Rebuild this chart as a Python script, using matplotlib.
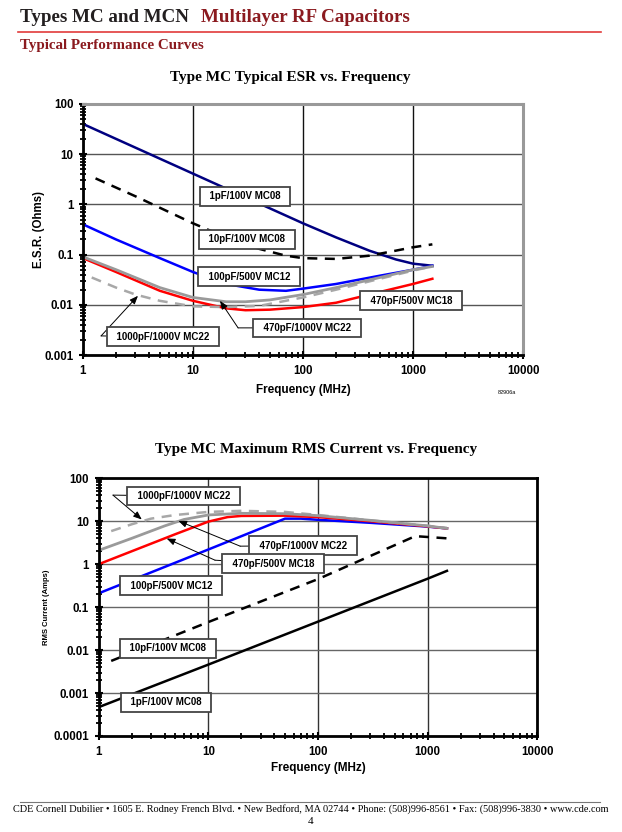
import matplotlib
matplotlib.use("Agg")
import matplotlib.pyplot as plt
from matplotlib.ticker import LogLocator, FixedLocator, FixedFormatter, NullFormatter

W, H = 622, 832

# ---- ESR vs frequency ----
esr_1pf_f = [1, 10, 100, 200, 400, 700, 1000, 1500]
esr_1pf = [40, 4.1, 0.42, 0.22, 0.12, 0.08, 0.066, 0.06]
esr_10pf_f = [1.3, 3, 10, 20, 40, 70, 100, 200, 400, 700, 1000, 1500]
esr_10pf = [3.3, 1.45, 0.42, 0.22, 0.13, 0.095, 0.085, 0.082, 0.095, 0.12, 0.14, 0.16]
esr_100pf_f = [1, 2, 5, 10, 20, 40, 70, 100, 200, 500, 1000, 1500]
esr_100pf = [0.4, 0.2, 0.085, 0.045, 0.026, 0.02, 0.019, 0.021, 0.026, 0.038, 0.05, 0.06]
esr_470pf1k_f = [1, 2, 5, 10, 20, 30, 50, 100, 200, 500, 1000, 1500]
esr_470pf1k = [0.09, 0.05, 0.022, 0.014, 0.0115, 0.0115, 0.0125, 0.016, 0.022, 0.035, 0.05, 0.058]
esr_470pf500_f = [1, 2, 5, 10, 20, 30, 50, 100, 200, 500, 1000, 1500]
esr_470pf500 = [0.085, 0.045, 0.019, 0.012, 0.0085, 0.0078, 0.008, 0.009, 0.011, 0.018, 0.026, 0.033]
esr_1000pf_f = [1.2, 2, 3, 5, 10, 20, 40, 100, 200, 500, 1000, 1500]
esr_1000pf = [0.035, 0.022, 0.016, 0.012, 0.0093, 0.009, 0.0095, 0.014, 0.02, 0.033, 0.048, 0.058]

# ---- Max RMS current vs frequency ----
rms_1pf_f = [1, 10, 100, 1000, 1500]
rms_1pf = [0.00047, 0.0046, 0.046, 0.46, 0.7]
rms_10pf_f = [1.3, 10, 100, 770, 1000, 1500]
rms_10pf = [0.0056, 0.045, 0.45, 4.5, 4.3, 4.0]
rms_100pf_f = [1, 10, 50, 70, 100, 300, 1000, 1500]
rms_100pf = [0.21, 2.2, 11.5, 11.5, 10.8, 9.2, 7.5, 6.8]
rms_470pf500_f = [1, 2, 5, 10, 15, 20, 50, 100, 300, 1000, 1500]
rms_470pf500 = [1.0, 2.0, 5.0, 9.8, 12.5, 13.3, 13.5, 12.5, 10, 7.6, 6.8]
rms_470pf1k_f = [1, 2, 4, 6, 10, 20, 50, 100, 300, 1000, 1500]
rms_470pf1k = [2.1, 4.0, 7.8, 11, 14, 15.3, 15, 13.5, 10.5, 7.8, 6.8]
rms_1000pf_f = [1.3, 2, 3, 5, 10, 20, 50, 100, 300, 1000, 1500]
rms_1000pf = [5.9, 8.5, 11.5, 14, 16.5, 17.5, 16.5, 14, 10.5, 7.8, 7.0]

x_ticks = [1, 10, 100, 1000, 10000]
x_labels = ["1", "10", "100", "1000", "10000"]
esr_yticks = [0.001, 0.01, 0.1, 1, 10, 100]
esr_ylabels = ["0.001", "0.01", "0.1", "1", "10", "100"]
rms_yticks = [0.0001, 0.001, 0.01, 0.1, 1, 10, 100]
rms_ylabels = ["0.0001", "0.001", "0.01", "0.1", "1", "10", "100"]

SANS = "Liberation Sans"
SERIF = "Liberation Serif"
DARKRED = "#8b1a1f"
GRAY_SOLID = "#9a9a9a"
GRAY_DASH = "#a8a8a8"
TICK_FS = 8.3


def px(x, y):
    return x / W, 1 - y / H


fig = plt.figure(figsize=(W / 100, H / 100), dpi=100)
renderer = fig.canvas.get_renderer()

# page header / footer
t1 = fig.text(*px(20, 17), "Types MC and MCN", family=SERIF, weight="bold",
              fontsize=13.7, color="#231f20", va="center", ha="left")
x_end = t1.get_window_extent(renderer).x1
fig.text((x_end + 12) / W, 1 - 17 / H, "Multilayer RF Capacitors", family=SERIF, weight="bold",
         fontsize=13.7, color=DARKRED, va="center", ha="left")
fig.add_artist(plt.Line2D([18 / W, 601 / W], [1 - 32 / H] * 2, color="#e23b3b", lw=1.2))
fig.text(*px(20, 46), "Typical Performance Curves", family=SERIF, weight="bold",
         fontsize=10.8, color=DARKRED, va="center", ha="left")
fig.add_artist(plt.Line2D([20 / W, 600 / W], [1 - 802 / H] * 2, color="#777777", lw=0.8))
fig.text(*px(311, 809), "CDE Cornell Dubilier \u2022 1605 E. Rodney French Blvd. \u2022 New Bedford, MA 02744 "
         "\u2022 Phone: (508)996-8561 \u2022 Fax: (508)996-3830 \u2022 www.cde.com",
         family=SERIF, fontsize=7.4, ha="center", va="center")
fig.text(*px(311, 821), "4", family=SERIF, fontsize=8, ha="center", va="center")


def setup_axes(ax, yticks, ylabels, grid_h, grid_v):
    ax.set_xscale("log")
    ax.set_yscale("log")
    ax.set_xlim(x_ticks[0], x_ticks[-1])
    ax.set_ylim(yticks[0], yticks[-1])
    ax.xaxis.set_major_locator(FixedLocator(x_ticks))
    ax.xaxis.set_major_formatter(FixedFormatter(x_labels))
    ax.yaxis.set_major_locator(FixedLocator(yticks))
    ax.yaxis.set_major_formatter(FixedFormatter(ylabels))
    ax.xaxis.set_minor_locator(LogLocator(base=10, subs=range(2, 10), numticks=20))
    ax.yaxis.set_minor_locator(LogLocator(base=10, subs=range(2, 10), numticks=20))
    ax.xaxis.set_minor_formatter(NullFormatter())
    ax.yaxis.set_minor_formatter(NullFormatter())
    ax.tick_params(which="major", direction="inout", length=6, width=1.5, pad=4)
    ax.tick_params(which="minor", direction="inout", length=4, width=1.3)
    for lab in ax.get_xticklabels() + ax.get_yticklabels():
        lab.set_family(SANS)
        lab.set_weight("bold")
        lab.set_fontsize(TICK_FS)
    ax.grid(True, which="major", axis="y", color=grid_h, lw=1.0)
    ax.grid(True, which="major", axis="x", color=grid_v, lw=1.0)
    ax.set_axisbelow(True)


def label_box(ax, text, xy, arrow_to=None, elbow=None):
    text = "  " + text + "  "
    bbox = dict(boxstyle="square,pad=0.45", fc="white", ec="#444444", lw=1.3)
    kw = dict(family=SANS, weight="bold", fontsize=7, ha="center", va="center", zorder=6)
    if elbow is None:
        ax.annotate(text, xy=xy, xycoords="data", bbox=bbox, **kw)
        return
    ax.annotate(text, xy=elbow, xytext=xy, bbox=bbox,
                arrowprops=dict(arrowstyle="-", color="black", lw=0.7, shrinkA=0, shrinkB=0), **kw)
    ax.annotate("", xy=arrow_to, xytext=elbow,
                arrowprops=dict(arrowstyle="-|>,head_length=0.5,head_width=0.2", color="black",
                                lw=0.7, shrinkA=0, shrinkB=0), zorder=5)


# ---- chart 1: ESR ----
ax1 = fig.add_axes([83 / W, 1 - 355 / H, 440 / W, 251 / H])
setup_axes(ax1, esr_yticks, esr_ylabels, "#555555", "#111111")
for sp in ("left", "bottom"):
    ax1.spines[sp].set_linewidth(2.0)
    ax1.spines[sp].set_color("black")
for sp in ("top", "right"):
    ax1.spines[sp].set_linewidth(2.2)
    ax1.spines[sp].set_color("#999999")

ax1.plot(esr_1pf_f, esr_1pf, color="#000080", lw=1.8)
ax1.plot(esr_10pf_f, esr_10pf, color="black", lw=1.8, ls=(0, (4, 3)))
ax1.plot(esr_100pf_f, esr_100pf, color="#0000ff", lw=1.8)
ax1.plot(esr_470pf500_f, esr_470pf500, color="#ff0000", lw=1.8)
ax1.plot(esr_1000pf_f, esr_1000pf, color=GRAY_DASH, lw=1.8, ls=(0, (4, 3)))
ax1.plot(esr_470pf1k_f, esr_470pf1k, color=GRAY_SOLID, lw=2.0)

label_box(ax1, "1pF/100V MC08", (29.7, 1.445))
label_box(ax1, "10pF/100V MC08", (31, 0.2))
label_box(ax1, "100pF/500V MC12", (32.4, 0.036))
label_box(ax1, "470pF/500V MC18", (959, 0.012))
label_box(ax1, "470pF/1000V MC22", (108.8, 0.00347), arrow_to=(17.6, 0.012), elbow=(25.7, 0.00347))
label_box(ax1, "1000pF/1000V MC22", (5.34, 0.0023), arrow_to=(3.16, 0.0151), elbow=(1.46, 0.0024))

ax1.set_ylabel("E.S.R. (Ohms)", family=SANS, weight="bold", fontsize=8.3)
ax1.yaxis.set_label_coords(-0.086, 0.5)
ax1.set_xlabel("Frequency (MHz)", family=SANS, weight="bold", fontsize=8.5)
ax1.xaxis.set_label_coords(0.5, -0.115)
fig.text(*px(290, 78), "Type MC Typical ESR vs. Frequency", family=SERIF, weight="bold",
         fontsize=11, ha="center", va="center")
fig.text(*px(507, 392), "82906a", family=SANS, fontsize=4, ha="center", va="center")

# ---- chart 2: RMS current ----
ax2 = fig.add_axes([98.7 / W, 1 - 736 / H, 438.6 / W, 257.7 / H])
setup_axes(ax2, rms_yticks, rms_ylabels, "#666666", "#333333")
for sp in ax2.spines.values():
    sp.set_linewidth(2.0)
    sp.set_color("black")

ax2.plot(rms_1pf_f, rms_1pf, color="black", lw=1.8)
ax2.plot(rms_10pf_f, rms_10pf, color="black", lw=1.8, ls=(0, (4, 3)))
ax2.plot(rms_100pf_f, rms_100pf, color="#0000ff", lw=1.8)
ax2.plot(rms_470pf500_f, rms_470pf500, color="#ff0000", lw=1.8)
ax2.plot(rms_1000pf_f, rms_1000pf, color=GRAY_DASH, lw=1.8, ls=(0, (4, 3)))
ax2.plot(rms_470pf1k_f, rms_470pf1k, color=GRAY_SOLID, lw=2.0)

label_box(ax2, "1000pF/1000V MC22", (5.97, 38.5), arrow_to=(2.47, 11.0), elbow=(1.35, 40.6))
label_box(ax2, "470pF/1000V MC22", (73.1, 2.7), arrow_to=(5.33, 10.2), elbow=(19.5, 2.63))
label_box(ax2, "470pF/500V MC18", (38.9, 1.03), arrow_to=(4.17, 3.97), elbow=(11.5, 1.24))
label_box(ax2, "100pF/500V MC12", (4.57, 0.315))
label_box(ax2, "10pF/100V MC08", (4.29, 0.011))
label_box(ax2, "1pF/100V MC08", (4.11, 0.00061))

ax2.set_ylabel("RMS Current (Amps)", family=SANS, weight="bold", fontsize=5.5)
ax2.yaxis.set_label_coords(-0.111, 0.5)
ax2.set_xlabel("Frequency (MHz)", family=SANS, weight="bold", fontsize=8.5)
ax2.xaxis.set_label_coords(0.5, -0.101)
fig.text(*px(316, 450), "Type MC Maximum RMS Current vs. Frequency", family=SERIF, weight="bold",
         fontsize=11, ha="center", va="center")

fig.savefig("out.png", dpi=100)
